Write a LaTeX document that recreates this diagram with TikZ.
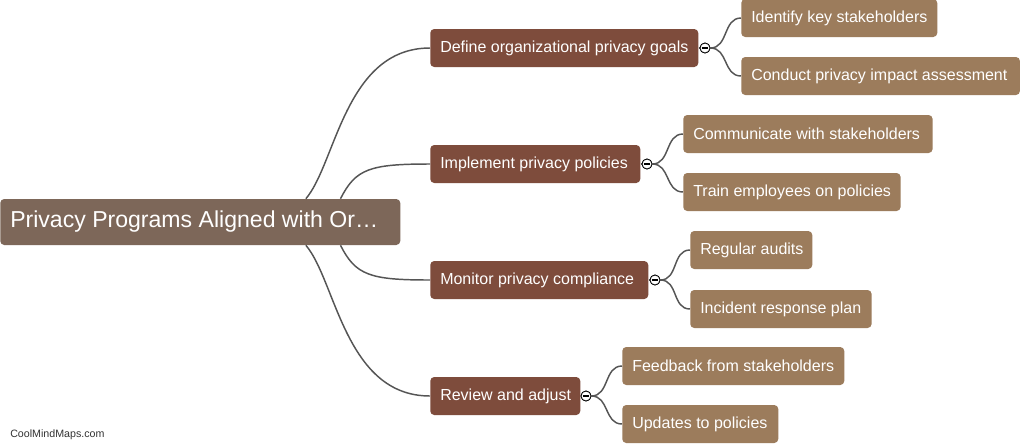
\documentclass[tikz,border=0pt]{standalone}
\usepackage{fontspec}
\setmainfont{Liberation Sans}
\usetikzlibrary{calc}
\definecolor{rootc}{HTML}{7D6759}
\definecolor{lvone}{HTML}{7E4C3C}
\definecolor{lvtwo}{HTML}{9C7C5C}
\definecolor{linec}{HTML}{555555}
\newcommand\lbx[2]{\makebox[#1][l]{#2}}
\begin{document}
\begin{tikzpicture}[x=0.75pt,y=-0.75pt,
  box/.style={anchor=west,rounded corners=3pt,text=white,inner xsep=7.5pt,inner ysep=0pt,minimum height=28.5pt,font=\fontsize{12}{14}\selectfont},
  rootbox/.style={box,fill=rootc,minimum height=34.5pt,font=\fontsize{17.3}{20}\selectfont},
  onebox/.style={box,fill=lvone},
  twobox/.style={box,fill=lvtwo},
  conn/.style={draw=linec,line width=1.1pt},
  tog/.style={circle,draw=black,fill=white,line width=0.6pt,minimum size=7.5pt,inner sep=0pt}
]
\useasboundingbox (0,0) rectangle (1032,444);
\fill[white] (0,0) rectangle (1032,444);

\node[rootbox] (root) at (0,222) {\lbx{285pt}{Privacy Programs Aligned with Or…}};

\node[onebox] (a) at (430,48) {\lbx{186pt}{Define organizational privacy goals}};
\node[onebox] (b) at (430,164) {\lbx{142.5pt}{Implement privacy policies}};
\node[onebox] (c) at (430,280) {\lbx{148.5pt}{Monitor privacy compliance}};
\node[onebox] (d) at (430,396) {\lbx{97.5pt}{Review and adjust}};

\node[tog] (ta) at (705,48) {};
\node[tog] (tb) at (647,164) {};
\node[tog] (tc) at (655,280) {};
\node[tog] (td) at (586,396) {};

\node[twobox] (a1) at (741,18) {\lbx{132pt}{Identify key stakeholders}};
\node[twobox] (a2) at (741,76) {\lbx{194pt}{Conduct privacy impact assessment}};
\node[twobox] (b1) at (683,134) {\lbx{172pt}{Communicate with stakeholders}};
\node[twobox] (b2) at (683,192) {\lbx{148pt}{Train employees on policies}};
\node[twobox] (c1) at (690,250) {\lbx{76.5pt}{Regular audits}};
\node[twobox] (c2) at (690,309) {\lbx{121pt}{Incident response plan}};
\node[twobox] (d1) at (622,366) {\lbx{151.5pt}{Feedback from stakeholders}};
\node[twobox] (d2) at (622,424) {\lbx{102pt}{Updates to policies}};

% root connectors
\draw[conn] ([xshift=-71pt]root.north east) .. controls +(30,-35) and +(-85,0) .. (a.west);
\draw[conn] ([xshift=-45pt]root.north east) .. controls +(15,-30) and +(-60,0) .. (b.west);
\draw[conn] ([xshift=-45pt]root.south east) .. controls +(15,30) and +(-60,0) .. (c.west);
\draw[conn] ([xshift=-71pt]root.south east) .. controls +(30,35) and +(-85,0) .. (d.west);

% toggle stems
\foreach \p/\t in {a/ta,b/tb,c/tc,d/td}{
  \draw[conn] (\p.east) -- (\t.west);
}

% child connectors
\foreach \t/\u/\v in {ta/a1/a2,tb/b1/b2,tc/c1/c2,td/d1/d2}{
  \draw[conn] (\t.east) .. controls +(18,0) and +(-18,0) .. (\u.west);
  \draw[conn] (\t.east) .. controls +(18,0) and +(-18,0) .. (\v.west);
}
\foreach \t in {ta,tb,tc,td}{
  \node[tog] at (\t) {};
  \draw[line width=0.8pt] ([xshift=-2.4pt]\t.center) -- ([xshift=2.4pt]\t.center);
}

\node[anchor=west,text=black!80,font=\fontsize{8}{10}\selectfont,inner sep=0pt] (foot) at (10,435) {CoolMindMaps.com};
\end{tikzpicture}
\end{document}
